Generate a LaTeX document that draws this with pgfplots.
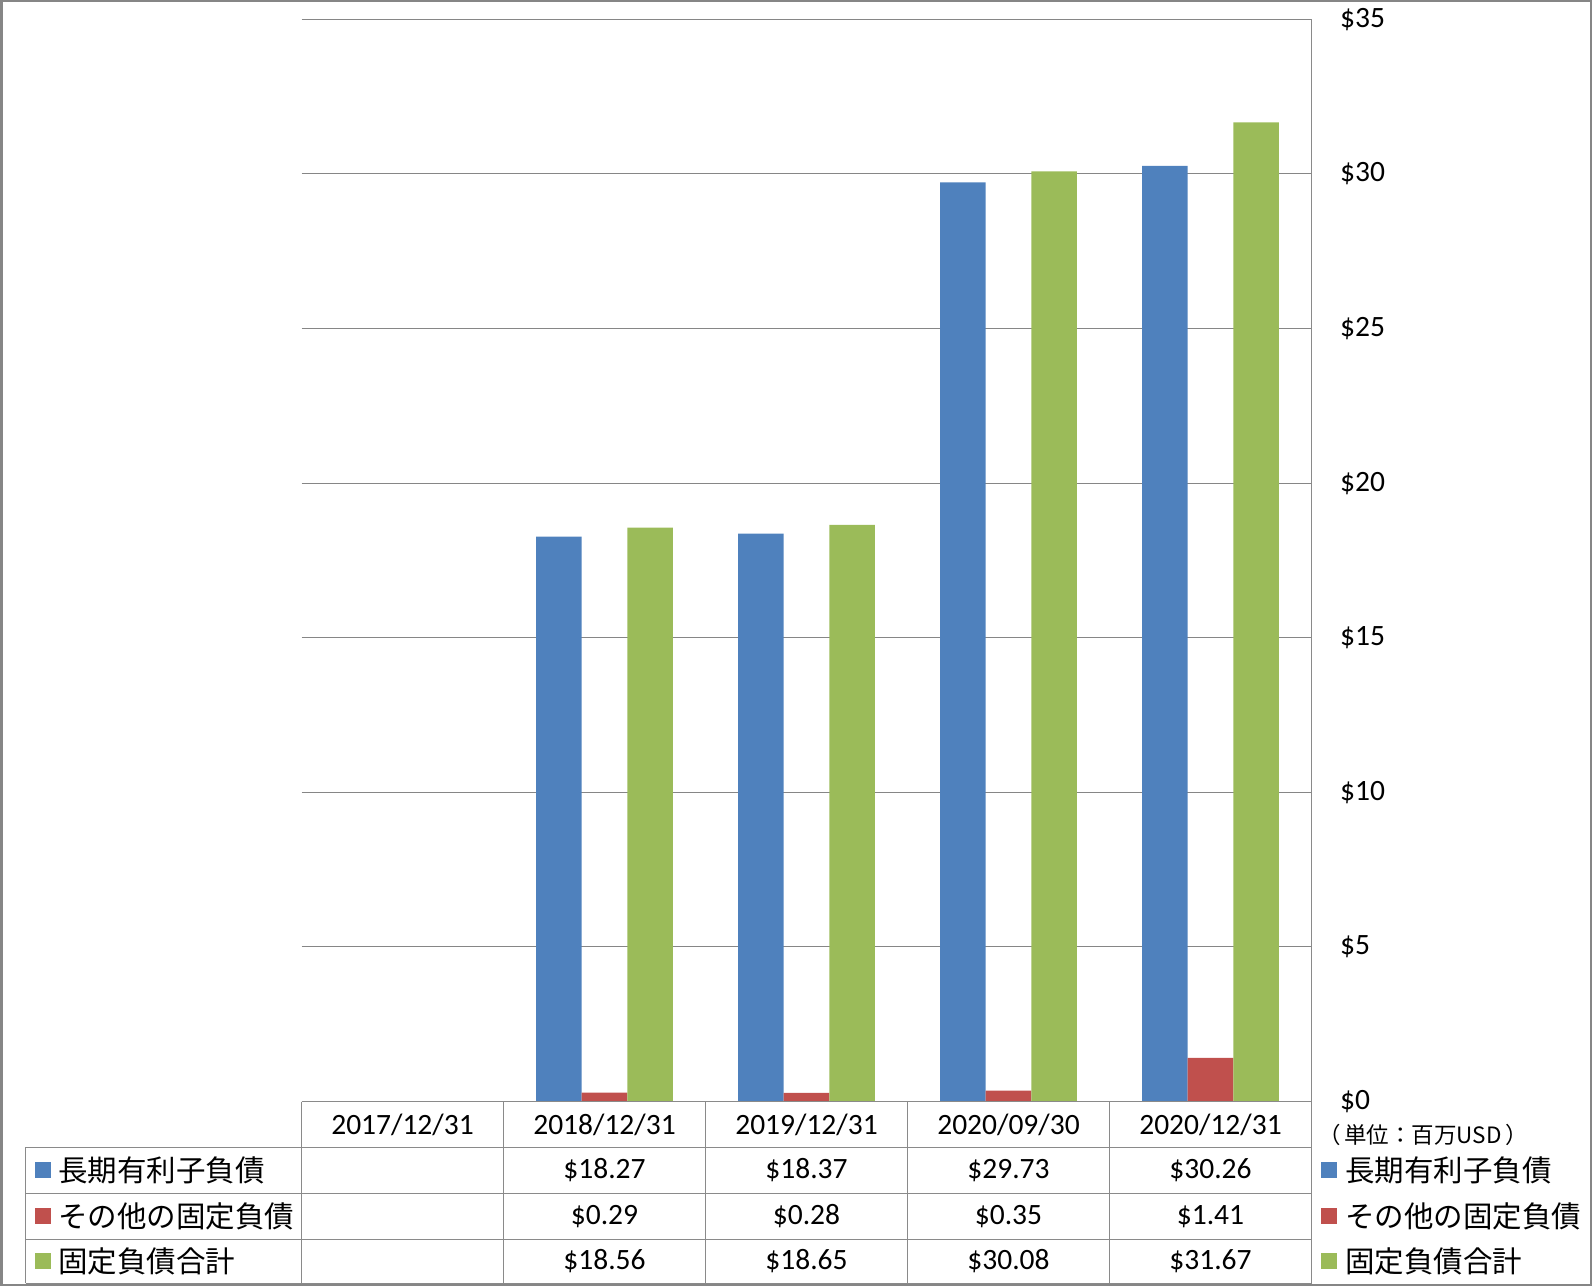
\documentclass[border=0pt]{standalone}
\usepackage{fontspec}
\usepackage{pgfplots}
\pgfplotsset{compat=1.18}
\setmainfont{Carlito}
\newfontfamily\jp{Noto Sans CJK JP}
\definecolor{cblue}{HTML}{4F81BD}
\definecolor{cred}{HTML}{C0504D}
\definecolor{cgreen}{HTML}{9BBB59}
\definecolor{gridgray}{HTML}{868686}
\definecolor{linegray}{HTML}{8A8A8A}
\begin{document}
\begin{tikzpicture}[x=1pt,y=1pt]
\useasboundingbox (0,0) rectangle (1592,1286);
\fontsize{29.5}{34}\selectfont
\begin{axis}[at={(301.5pt,184.5pt)}, anchor=south west, scale only axis,
  width=1010pt, height=1082.2pt,
  xmin=-0.5, xmax=4.5, ymin=0, ymax=35,
  xtick=\empty, ytick={0,5,...,35},
  yticklabels={\$0,\$5,\$10,\$15,\$20,\$25,\$30,\$35},
  ytick pos=right, yticklabel pos=right, major tick length=0pt,
  yticklabel style={anchor=west, inner sep=0pt, xshift=28.5pt, font=\fontsize{29.5}{34}\selectfont},
  axis line style={draw=none},
  ymajorgrids, major grid style={draw=gridgray, line width=1.1pt},
  ybar=0pt, bar width=45.6pt, clip=false]
\addplot[fill=cblue, draw=none] coordinates {(1,18.27) (2,18.37) (3,29.73) (4,30.26)};
\addplot[fill=cred, draw=none] coordinates {(1,0.29) (2,0.28) (3,0.35) (4,1.41)};
\addplot[fill=cgreen, draw=none] coordinates {(1,18.56) (2,18.65) (3,30.08) (4,31.67)};
\end{axis}
% table lines
\begin{scope}[linegray, line width=1.3pt]
\draw (301.5,184.5) -- (1311.5,184.5);
\foreach \yy in {138.7,92.7,46.7,2.7} {\draw (25.7,\yy) -- (1311.5,\yy);}
\draw (25.7,2.7) -- (25.7,138.7);
\foreach \xx in {301.5,503.5,705.5,907.5,1109.5} {\draw (\xx,2.7) -- (\xx,184.5);}
\draw (1311.5,2.7) -- (1311.5,1266.7);
\end{scope}
% header
\foreach \xx/\t in {402.5/2017\slash12\slash31,604.5/2018\slash12\slash31,806.5/2019\slash12\slash31,1008.5/2020\slash09\slash30,1210.5/2020\slash12\slash31}
  {\node[inner sep=0pt] at (\xx,161.6) {\t};}
% values
\foreach \xx/\t in {604.5/18.27,806.5/18.37,1008.5/29.73,1210.5/30.26}
  {\node[inner sep=0pt] at (\xx,115.7) {\$\t};}
\foreach \xx/\t in {604.5/0.29,806.5/0.28,1008.5/0.35,1210.5/1.41}
  {\node[inner sep=0pt] at (\xx,69.7) {\$\t};}
\foreach \xx/\t in {604.5/18.56,806.5/18.65,1008.5/30.08,1210.5/31.67}
  {\node[inner sep=0pt] at (\xx,24.7) {\$\t};}
% row labels
\fill[cblue] (35,107.7) rectangle (51,123.7);
\fill[cred] (35,61.7) rectangle (51,77.7);
\fill[cgreen] (35,16.7) rectangle (51,32.7);
\node[anchor=west, inner sep=0pt] at (58,115.7) {\jp\fontsize{29.5}{34}\selectfont 長期有利子負債};
\node[anchor=west, inner sep=0pt] at (58,69.7) {\jp\fontsize{29.5}{34}\selectfont その他の固定負債};
\node[anchor=west, inner sep=0pt] at (58,24.7) {\jp\fontsize{29.5}{34}\selectfont 固定負債合計};
% right legend
\node[anchor=west, inner sep=0pt] at (1318,151) {\jp\fontsize{22.5}{26}\selectfont （\,単位：百万USD\,）};
\fill[cblue] (1321,107.7) rectangle (1337,123.7);
\fill[cred] (1321,61.7) rectangle (1337,77.7);
\fill[cgreen] (1321,16.7) rectangle (1337,32.7);
\node[anchor=west, inner sep=0pt] at (1345,115.7) {\jp\fontsize{29.5}{34}\selectfont 長期有利子負債};
\node[anchor=west, inner sep=0pt] at (1345,69.7) {\jp\fontsize{29.5}{34}\selectfont その他の固定負債};
\node[anchor=west, inner sep=0pt] at (1345,24.7) {\jp\fontsize{29.5}{34}\selectfont 固定負債合計};
% frame
\draw[gridgray, line width=2.5pt] (1.25,1.25) rectangle (1590.75,1284.75);
\end{tikzpicture}
\end{document}
